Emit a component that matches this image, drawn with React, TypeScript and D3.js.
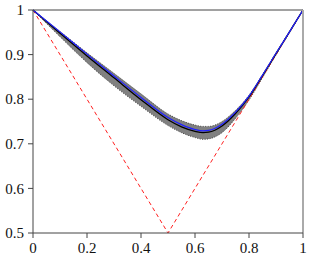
import React from 'react';
import * as d3 from 'd3';

const xs = [0, 0.1, 0.2, 0.3, 0.4, 0.5, 0.55, 0.6, 0.63, 0.65, 0.7, 0.75, 0.8, 0.85, 0.9, 0.95, 1];
const mid = [1, 0.948, 0.897, 0.848, 0.799, 0.754, 0.738, 0.728, 0.725, 0.726, 0.74, 0.768, 0.805, 0.853, 0.902, 0.951, 1];
const blue = [1, 0.951, 0.901, 0.852, 0.804, 0.759, 0.743, 0.732, 0.729, 0.73, 0.744, 0.771, 0.807, 0.854, 0.903, 0.951, 1];
const upper = [1, 0.952, 0.904, 0.858, 0.812, 0.767, 0.752, 0.742, 0.739, 0.739, 0.75, 0.775, 0.809, 0.855, 0.904, 0.952, 1];
const lower = [1, 0.94, 0.882, 0.83, 0.784, 0.741, 0.725, 0.714, 0.71, 0.711, 0.725, 0.757, 0.798, 0.848, 0.899, 0.949, 1];
const vx = [0, 0.5, 1];
const vy = [1, 0.5, 1];
const xTicks = [0, 0.2, 0.4, 0.6, 0.8, 1];
const yTicks = [0.5, 0.6, 0.7, 0.8, 0.9, 1];

const W = 311, H = 259;
const m = { left: 33, right: 8, top: 10, bottom: 26 };

const labelStyle: React.CSSProperties = {
  fontFamily: 'Liberation Serif, serif',
  fontSize: '15px',
  fill: '#111',
};

export default function App() {
  const x = d3.scaleLinear().domain([0, 1]).range([m.left, W - m.right]);
  const y = d3.scaleLinear().domain([0.5, 1]).range([H - m.bottom, m.top]);
  const line = d3.line<number>().x((_, i) => x(xs[i])).y(d => y(d)).curve(d3.curveMonotoneX);
  const area = d3.area<number>()
    .x((_, i) => x(xs[i]))
    .y0((_, i) => y(lower[i]))
    .y1(d => y(d))
    .curve(d3.curveMonotoneX);
  const vline = d3.line<number>().x((_, i) => x(vx[i])).y(d => y(d));

  return (
    <svg width={W} height={H} style={{ position: 'absolute', left: 0, top: 0, background: '#fff' }}>
      <path d={area(upper) || ''} fill="#808080" />
      <path d={line(upper) || ''} fill="none" stroke="#444" strokeWidth={1} strokeDasharray="1,1.5" />
      <path d={line(lower) || ''} fill="none" stroke="#444" strokeWidth={1} strokeDasharray="1,1.5" />
      <path d={vline(vy) || ''} fill="none" stroke="#ff2020" strokeWidth={1} strokeDasharray="4,3" />
      <path d={line(mid) || ''} fill="none" stroke="#000" strokeWidth={1.3} />
      <path d={line(blue) || ''} fill="none" stroke="#2020ff" strokeWidth={1.2} />
      <line x1={x(0)} x2={x(1)} y1={y(1)} y2={y(1)} stroke="#444" />
      <line x1={x(1)} x2={x(1)} y1={y(1)} y2={y(0.5)} stroke="#aaa" strokeWidth={2} />
      <line x1={x(0)} x2={x(0)} y1={y(1)} y2={y(0.5)} stroke="#444" />
      <line x1={x(0)} x2={x(1)} y1={y(0.5)} y2={y(0.5)} stroke="#444" />
      {yTicks.map(t => (
        <g key={'y' + t}>
          <line x1={x(0) - 5} x2={x(0)} y1={y(t)} y2={y(t)} stroke="#444" />
          <text x={x(0) - 9} y={y(t)} dy="0.34em" textAnchor="end" style={labelStyle}>{t}</text>
        </g>
      ))}
      {xTicks.map(t => (
        <g key={'x' + t}>
          <line x1={x(t)} x2={x(t)} y1={y(0.5)} y2={y(0.5) + 5} stroke="#444" />
          <text x={x(t)} y={y(0.5) + 20} textAnchor="middle" style={labelStyle}>{t}</text>
        </g>
      ))}
    </svg>
  );
}
